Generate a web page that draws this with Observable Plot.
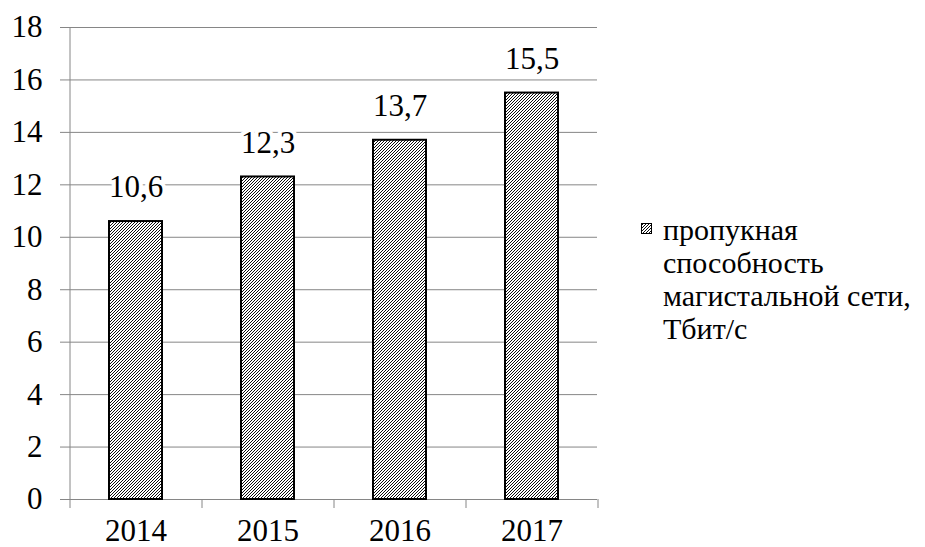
<!DOCTYPE html>
<html>
<head>
<meta charset="utf-8">
<script src="https://cdn.jsdelivr.net/npm/d3@7"></script>
<script src="https://cdn.jsdelivr.net/npm/@observablehq/plot@0.6"></script>
<style>
  body { margin: 0; background: #fff; }
  #chart { position: relative; width: 925px; height: 547px; font-family: "Liberation Serif", "DejaVu Serif", "Noto Serif", Tinos, "Times New Roman", Times, serif; }
  #defs { position: absolute; width: 0; height: 0; }
  #legend { position: absolute; left: 641px; top: 213px; font-size: 30px; line-height: 33px; color: #000; }
  #legend .swatch { position: absolute; left: 0; top: 10px; }
  #legend .lines { position: absolute; left: 22px; top: 0; white-space: nowrap; }
</style>
</head>
<body>
<svg id="defs" aria-hidden="true">
  <defs>
    <pattern id="hatch" patternUnits="userSpaceOnUse" width="3" height="3">
      <rect width="3" height="3" fill="#fff"></rect>
      <path d="M-1,1 L1,-1 M0,3 L3,0 M2,4 L4,2" stroke="#000" stroke-width="0.95"></path>
    </pattern>
  </defs>
</svg>
<div id="chart"></div>
<script>
// Backbone network capacity by year
const years = ["2014", "2015", "2016", "2017"];
const capacity = [10.6, 12.3, 13.7, 15.5];
const yTicks = [0, 2, 4, 6, 8, 10, 12, 14, 16, 18];
const legendLines = ["пропукная", "способность", "магистальной сети,", "Тбит/с"];

const data = years.map((year, i) => ({year, value: capacity[i]}));

// layout
const W = 925, H = 547;
const mL = 69, mR = 328, mT = 27, mB = 48;
const padInner = 0.6, padOuter = 0.3;
const step = (W - mL - mR) / (years.length - padInner + 2 * padOuter);
const pxPerUnit = (H - mT - mB) / (yTicks[yTicks.length - 1] - yTicks[0]);
const tickLen = 9;
const gray = "#868686";
const serif = "'Liberation Serif', 'DejaVu Serif', 'Noto Serif', Tinos, 'Times New Roman', Times, serif";
const fmt = v => v.toFixed(1).replace(".", ",");

const chart = Plot.plot({
  width: W,
  height: H,
  marginLeft: mL,
  marginRight: mR,
  marginTop: mT,
  marginBottom: mB,
  style: {fontFamily: serif, fontSize: "31px", background: "#fff", color: "#000"},
  x: {domain: years, paddingInner: padInner, paddingOuter: padOuter},
  y: {domain: [0, 18]},
  marks: [
    // horizontal gridlines
    Plot.ruleY(yTicks, {stroke: gray, strokeWidth: 1}),
    // vertical axis line
    Plot.ruleX([years[0]], {dx: -step / 2, y1: 18, y2: 0, stroke: gray, strokeWidth: 1}),
    // category boundary ticks below the baseline
    Plot.ruleX(years, {dx: -step / 2, y1: 0, y2: -tickLen / pxPerUnit, stroke: gray, strokeWidth: 1}),
    Plot.ruleX([years[years.length - 1]], {dx: step / 2, y1: 0, y2: -tickLen / pxPerUnit, stroke: gray, strokeWidth: 1}),
    // y axis ticks and labels
    Plot.axisY({ticks: yTicks, tickSize: tickLen, tickPadding: 18, stroke: gray, fill: "#000", fontSize: 31, fontFamily: serif, label: null}),
    // year labels
    Plot.axisX({tickSize: 0, tickPadding: 19, fill: "#000", fontSize: 31, fontFamily: serif, label: null}),
    // hatched bars
    Plot.barY(data, {x: "year", y: "value", fill: "url(#hatch)", stroke: "#000", strokeWidth: 2}),
    // value labels
    Plot.text(data, {
      x: "year", y: "value", text: d => fmt(d.value), dy: -34,
      fontSize: 31, fontFamily: serif, fill: "#000", stroke: "#fff", strokeWidth: 8, paintOrder: "stroke"
    })
  ]
});

const root = document.getElementById("chart");
root.appendChild(chart);

// legend
const legend = document.createElement("div");
legend.id = "legend";
legend.innerHTML =
  `<svg class="swatch" width="11" height="11"><rect x="0.5" y="0.5" width="10" height="10" fill="url(#hatch)" stroke="#000" stroke-width="1"></rect></svg>` +
  `<div class="lines">${legendLines.join("<br>")}</div>`;
root.appendChild(legend);
</script>
</body>
</html>
